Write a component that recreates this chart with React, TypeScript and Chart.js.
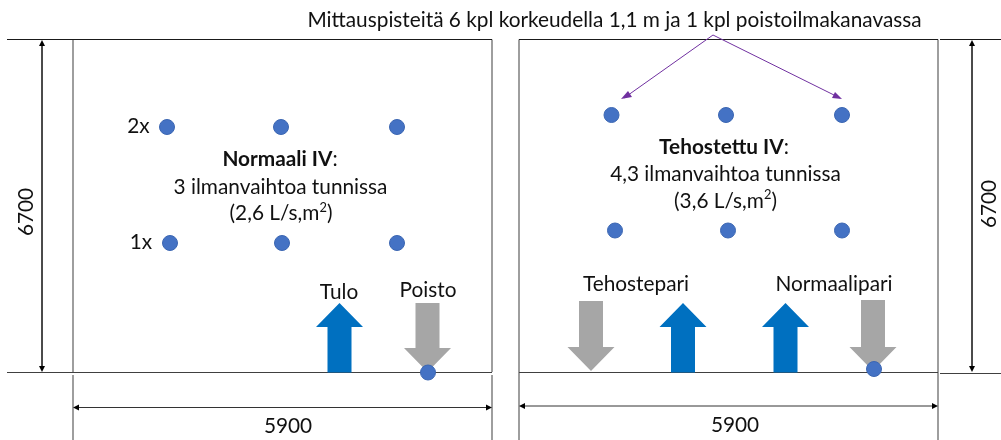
import React, { useEffect, useRef } from "react";
import { Chart, registerables } from "chart.js";

Chart.register(...registerables);

type P = { x: number; y: number };
const pts = (a: number[][]): P[] => a.map(([x, y]) => ({ x, y }));

// measurement points (diagram units)
const normalPoints = [[167, 127], [281, 127], [397, 127], [170, 243], [282, 243], [397, 243], [428, 372.5]];
const boostPoints = [[611.5, 115], [726, 115], [842, 115], [615, 230.5], [728, 230.5], [842, 230.5], [874, 369]];

// wall and extension lines
const blackLines = [
  [[7, 39.5], [492, 39.5]], [[519, 39.5], [938, 39.5]], [[940, 39.5], [1001, 39.5]],
];
const floorLines = [
  [[7, 372.5], [492, 372.5]], [[519, 372.5], [938, 372.5]], [[940, 373.5], [1001, 373.5]],
];
const wallLines = [
  [[73, 39.5], [73, 372]], [[73, 375], [73, 440]], [[492, 39.5], [492, 372]], [[492, 375], [492, 440]],
  [[519, 39.5], [519, 440]], [[938, 39.5], [938, 440]],
];
const dimensionLines = [
  [[42, 42], [42, 370]], [[972, 42], [972, 370]], [[75, 407.5], [490, 407.5]], [[521, 406], [936, 406]],
];
const dimensionHeads = [
  [[42, 40], [39, 46], [45, 46]], [[42, 372], [39, 366], [45, 366]],
  [[972, 40], [969, 46], [975, 46]], [[972, 372], [969, 366], [975, 366]],
  [[73, 407.5], [79, 404.5], [79, 410.5]], [[492, 407.5], [486, 404.5], [486, 410.5]],
  [[519, 406], [525, 403], [525, 409]], [[938, 406], [932, 403], [932, 409]],
];
const pointerLines = [[[713, 35], [624, 98]], [[713, 35], [840, 98]]];
const pointerHeads = [
  [[621, 99], [628, 91], [632, 97]], [[842, 99], [835, 92], [832, 98]],
];

// airflow arrows: centre, top of the arrow, bottom of the arrow
const supplyArrows = [[339.5, 303, 372.5], [683, 303, 372.5], [785.5, 303, 372.5]];
const exhaustArrows = [[427.5, 303, 372], [591, 301, 371], [873, 300, 371]];

const upArrow = ([c, t, b]: number[]) => [[c, t], [c + 23.5, t + 24], [c + 12, t + 24], [c + 12, b], [c - 12, b], [c - 12, t + 24], [c - 23.5, t + 24]];
const downArrow = ([c, t, b]: number[]) => [[c - 12, t], [c + 12, t], [c + 12, b - 24], [c + 23.5, b - 24], [c, b], [c - 23.5, b - 24], [c - 12, b - 24]];

// text
const FONT = "Lato, 'Open Sans', sans-serif";
const SIZE = 20.8;
const plainLabels: [string, number, number][] = [
  ["Mittauspisteitä 6 kpl korkeudella 1,1 m ja 1 kpl poistoilmakanavassa", 614.5, 20.5],
  ["2x", 138.5, 126],
  ["1x", 141, 242],
  ["3 ilmanvaihtoa tunnissa", 280.5, 187.5],
  ["4,3 ilmanvaihtoa tunnissa", 725.5, 174.5],
  ["Tulo", 339, 292.5],
  ["Poisto", 428, 290.5],
  ["Tehostepari", 636, 284],
  ["Normaalipari", 834, 284],
  ["5900", 288, 426],
  ["5900", 735, 425],
];
const unitLabels: [string, string, string, number, number][] = [
  ["(2,6 L/s,m", "2", ")", 281, 213.5],
  ["(3,6 L/s,m", "2", ")", 725.5, 201],
];
const boldLabels: [string, number, number][] = [
  ["Normaali IV", 280, 159],
  ["Tehostettu IV", 724, 147],
];
const rotatedLabels: [string, number, number][] = [
  ["6700", 26, 212],
  ["6700", 989, 204],
];

const lineSet = (segments: number[][][], color: string, width: number) =>
  segments.map((s) => ({
    data: pts(s), showLine: true, borderColor: color, borderWidth: width,
    pointRadius: 0, fill: false, tension: 0,
  }));
const shapeSet = (polys: number[][][], color: string) =>
  polys.map((s) => ({
    data: pts(s), showLine: true, borderColor: color, borderWidth: 0,
    backgroundColor: color, pointRadius: 0, fill: "shape", tension: 0,
  }));

const textPlugin = {
  id: "diagramText",
  afterDatasetsDraw(chart: any) {
    const { ctx, scales } = chart;
    const X = (v: number) => scales.x.getPixelForValue(v);
    const Y = (v: number) => scales.y.getPixelForValue(v);
    ctx.save();
    ctx.fillStyle = "#111111";
    ctx.textBaseline = "middle";
    ctx.textAlign = "center";
    ctx.font = `${SIZE}px ${FONT}`;
    plainLabels.forEach(([t, x, y]) => ctx.fillText(t, X(x), Y(y)));
    unitLabels.forEach(([a, s, b, x, y]) => {
      const sup = `${SIZE * 0.62}px ${FONT}`;
      const reg = `${SIZE}px ${FONT}`;
      ctx.font = reg;
      const wa = ctx.measureText(a).width;
      const wb = ctx.measureText(b).width;
      ctx.font = sup;
      const ws = ctx.measureText(s).width;
      const left = X(x) - (wa + ws + wb) / 2;
      ctx.textAlign = "left";
      ctx.font = reg;
      ctx.fillText(a, left, Y(y));
      ctx.fillText(b, left + wa + ws, Y(y));
      ctx.font = sup;
      ctx.fillText(s, left + wa, Y(y) - 6);
      ctx.textAlign = "center";
      ctx.font = reg;
    });
    boldLabels.forEach(([t, x, y]) => {
      ctx.font = `bold ${SIZE}px ${FONT}`;
      const w = ctx.measureText(t).width;
      ctx.font = `${SIZE}px ${FONT}`;
      const cw = ctx.measureText(":").width;
      const left = X(x) - (w + cw) / 2;
      ctx.textAlign = "left";
      ctx.font = `bold ${SIZE}px ${FONT}`;
      ctx.fillText(t, left, Y(y));
      ctx.font = `${SIZE}px ${FONT}`;
      ctx.fillText(":", left + w, Y(y));
      ctx.textAlign = "center";
    });
    rotatedLabels.forEach(([t, x, y]) => {
      ctx.save();
      ctx.translate(X(x), Y(y));
      ctx.rotate(-Math.PI / 2);
      ctx.fillText(t, 0, 0);
      ctx.restore();
    });
    ctx.restore();
  },
};

export default function App() {
  const ref = useRef<HTMLCanvasElement>(null);
  useEffect(() => {
    const markers = {
      data: pts([...normalPoints, ...boostPoints]), showLine: false, pointRadius: 7.5,
      pointBackgroundColor: "#4472c4", pointBorderColor: "#3b66b2", pointBorderWidth: 1,
    };
    const chart = new Chart(ref.current!, {
      type: "scatter",
      data: {
        datasets: [
          markers,
          ...shapeSet(pointerHeads, "#7030a0"),
          ...lineSet(pointerLines, "#7030a0", 1),
          ...shapeSet(supplyArrows.map(upArrow), "#0070c0"),
          ...shapeSet(exhaustArrows.map(downArrow), "#a6a6a6"),
          ...shapeSet(dimensionHeads, "#000000"),
          ...lineSet(dimensionLines, "#333333", 1),
          ...lineSet(floorLines, "#404040", 1.2),
          ...lineSet(blackLines, "#1a1a1a", 1),
          ...lineSet(wallLines, "#7f7f7f", 1.5),
        ] as any,
      },
      options: {
        animation: false,
        responsive: false,
        layout: { padding: 0, autoPadding: false },
        plugins: { legend: { display: false }, tooltip: { enabled: false } },
        clip: false as any,
        scales: {
          x: { type: "linear", min: 0, max: 1001, display: false },
          y: { type: "linear", min: 0, max: 440, reverse: true, display: false },
        },
      },
      plugins: [textPlugin],
    });
    return () => chart.destroy();
  }, []);
  return (
    <div style={{ position: "absolute", left: 0, top: 0, width: 1001, height: 440, background: "#fff" }}>
      <canvas ref={ref} width={1001} height={440} style={{ display: "block" }} />
    </div>
  );
}
